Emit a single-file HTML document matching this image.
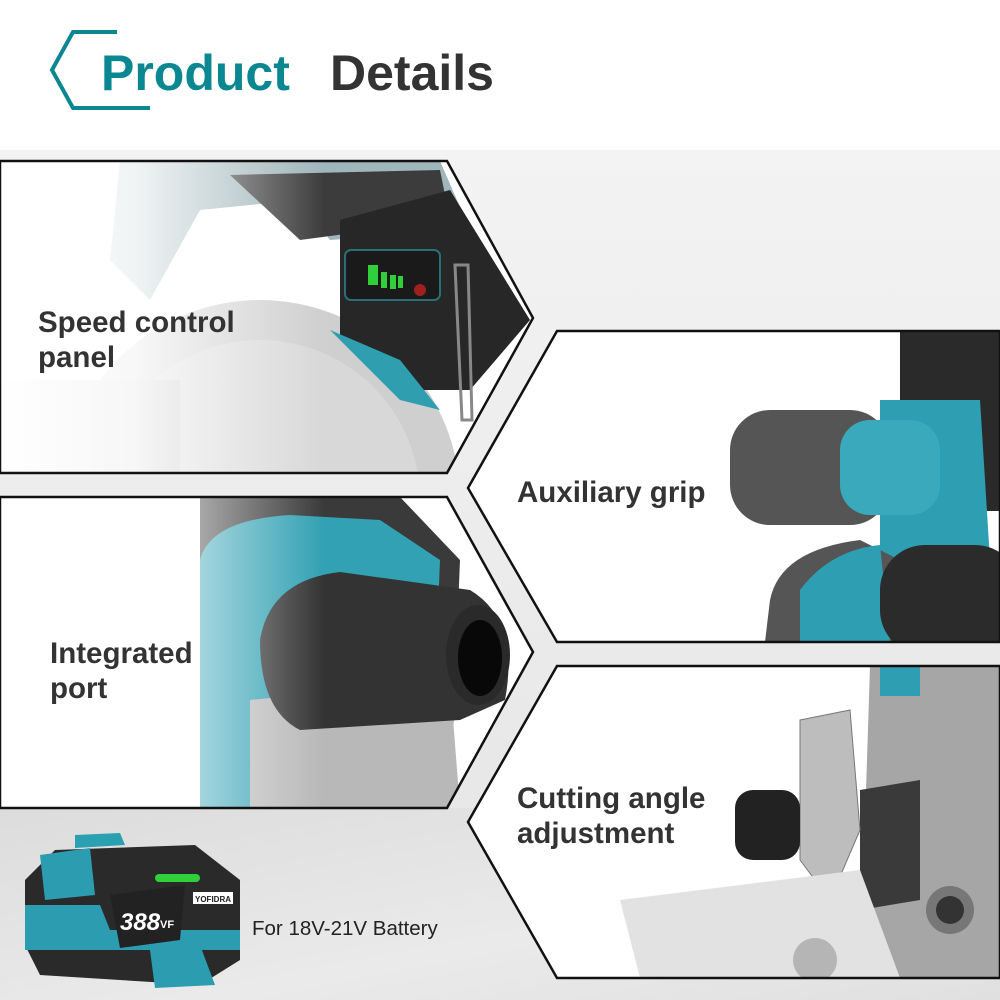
<!DOCTYPE html>
<html><head><meta charset="utf-8"><style>
html,body{margin:0;padding:0;background:#fff;}
svg{display:block;}
text{font-family:"Liberation Sans","DejaVu Sans",sans-serif;}
</style></head><body>
<svg width="1000" height="1000" viewBox="0 0 1000 1000" xmlns="http://www.w3.org/2000/svg">
<defs>
<linearGradient id="bg" x1="0" y1="0" x2="0" y2="1">
<stop offset="0" stop-color="#f3f3f3"/><stop offset="1" stop-color="#e4e4e4"/></linearGradient>
<linearGradient id="bot" x1="0" y1="0" x2="1" y2="1">
<stop offset="0" stop-color="#dcdcdc"/><stop offset="0.6" stop-color="#eaeaea"/><stop offset="1" stop-color="#e0e0e0"/></linearGradient>
<linearGradient id="fadeL" x1="0" y1="0" x2="1" y2="0">
<stop offset="0" stop-color="#fff" stop-opacity="1"/><stop offset="0.25" stop-color="#fff" stop-opacity="0.85"/><stop offset="0.6" stop-color="#fff" stop-opacity="0"/></linearGradient>
<clipPath id="p1"><polygon points="0,161 447,161 533,318 447,473 0,473"/></clipPath>
<clipPath id="p2"><polygon points="557,331 1000,331 1000,642 557,642 468,488"/></clipPath>
<clipPath id="p3"><polygon points="0,497 447,497 533,652 447,808 0,808"/></clipPath>
<clipPath id="p4"><polygon points="557,666 1000,666 1000,978 557,978 468,822"/></clipPath>
</defs>
<rect width="1000" height="1000" fill="#fff"/>
<polygon points="0,150 1000,150 1000,1000 0,1000" fill="url(#bg)"/>
<rect x="0" y="808" width="1000" height="192" fill="url(#bot)"/>

<polyline points="117,32 73,32 52,70 73,108 150,108" fill="none" stroke="#0a8790" stroke-width="4"/>
<text x="101" y="90" font-size="50" font-weight="bold" fill="#0a8790">Product</text>
<text x="330" y="90" font-size="50" font-weight="bold" fill="#333">Details</text>

<g clip-path="url(#p1)">
<rect x="0" y="161" width="540" height="312" fill="#fff"/>
<circle cx="260" cy="500" r="200" fill="#cfcfcf"/>
<circle cx="260" cy="500" r="160" fill="#d8d8d8"/>
<rect x="0" y="380" width="180" height="100" fill="#c8c8c8"/>
<path d="M120,161 L440,161 L470,230 L330,240 L300,200 L200,210 L150,300 L110,260 Z" fill="#9fb6ba"/>
<path d="M230,175 L440,170 L450,220 L300,240 Z" fill="#3c3c3c"/>
<path d="M340,220 L450,190 L530,320 L470,390 L410,390 L340,340 Z" fill="#272727"/>
<rect x="345" y="250" width="95" height="50" rx="6" fill="#1a1a1a" stroke="#2a6f78" stroke-width="2"/>
<rect x="368" y="265" width="10" height="20" fill="#2fd03a"/>
<rect x="381" y="272" width="6" height="16" fill="#2fd03a"/>
<rect x="390" y="275" width="6" height="14" fill="#2fd03a"/>
<rect x="398" y="276" width="5" height="12" fill="#2fd03a"/>
<circle cx="420" cy="290" r="6" fill="#a02020"/>
<path d="M330,330 L400,360 L440,410 L400,400 Z" fill="#2f9fb0"/>
<path d="M455,265 L468,265 L472,420 L462,420 Z" fill="none" stroke="#888" stroke-width="3"/>
<rect x="0" y="161" width="540" height="312" fill="url(#fadeL)"/>
</g>
<polygon points="0,161 447,161 533,318 447,473 0,473" fill="none" stroke="#111" stroke-width="2.5"/>
<text x="38" y="332" font-size="29.5" font-weight="bold" fill="#333">Speed control</text>
<text x="38" y="367" font-size="29.5" font-weight="bold" fill="#333">panel</text>

<g clip-path="url(#p2)">
<rect x="460" y="331" width="540" height="311" fill="#fff"/>
<rect x="900" y="331" width="100" height="180" fill="#2a2a2a"/>
<path d="M880,400 L980,400 L990,560 L880,560 Z" fill="#2e9fb2"/>
<rect x="730" y="410" width="160" height="115" rx="40" fill="#555"/>
<rect x="840" y="420" width="100" height="95" rx="30" fill="#39a9bb"/>
<path d="M770,600 Q780,550 860,540 L900,560 L900,642 L765,642 Z" fill="#555"/>
<path d="M800,590 Q830,550 880,545 L890,642 L800,642 Z" fill="#2e9fb2"/>
<rect x="880" y="545" width="140" height="110" rx="45" fill="#2b2b2b"/>
</g>
<polygon points="557,331 1000,331 1000,642 557,642 468,488" fill="none" stroke="#111" stroke-width="2.5"/>
<text x="517" y="502" font-size="29.5" font-weight="bold" fill="#333">Auxiliary grip</text>

<g clip-path="url(#p3)">
<rect x="0" y="497" width="540" height="311" fill="#fff"/>
<path d="M200,497 L400,497 L460,560 L450,808 L200,808 Z" fill="#3a3a3a"/>
<path d="M200,560 Q210,520 290,515 L380,520 L440,560 L430,808 L200,808 Z" fill="#32a1b3"/>
<path d="M250,700 L450,680 L460,808 L250,808 Z" fill="#b8b8b8"/>
<path d="M260,640 Q270,580 340,572 L470,590 Q520,620 505,700 L460,720 L300,730 Q260,710 260,640 Z" fill="#333"/>
<ellipse cx="478" cy="655" rx="32" ry="50" fill="#2a2a2a"/>
<ellipse cx="480" cy="658" rx="22" ry="38" fill="#080808"/>
<rect x="0" y="497" width="540" height="311" fill="url(#fadeL)"/>
</g>
<polygon points="0,497 447,497 533,652 447,808 0,808" fill="none" stroke="#111" stroke-width="2.5"/>
<text x="50" y="663" font-size="29.5" font-weight="bold" fill="#333">Integrated</text>
<text x="50" y="698" font-size="29.5" font-weight="bold" fill="#333">port</text>

<g clip-path="url(#p4)">
<rect x="460" y="666" width="540" height="312" fill="#fff"/>
<path d="M870,666 L1000,666 L1000,978 L860,978 Z" fill="#a6a6a6"/>
<rect x="880" y="666" width="40" height="30" fill="#2e9fb2"/>
<path d="M860,790 L920,780 L920,900 L860,910 Z" fill="#3a3a3a"/>
<path d="M800,720 L850,710 L860,830 L830,900 L800,860 Z" fill="#bdbdbd" stroke="#777"/>
<rect x="735" y="790" width="65" height="70" rx="18" fill="#222"/>
<path d="M620,900 L860,870 L900,978 L640,978 Z" fill="#e2e2e2"/>
<circle cx="950" cy="910" r="24" fill="#777"/>
<circle cx="950" cy="910" r="14" fill="#333"/>
<circle cx="815" cy="960" r="22" fill="#b5b5b5"/>
</g>
<polygon points="557,666 1000,666 1000,978 557,978 468,822" fill="none" stroke="#111" stroke-width="2.5"/>
<text x="517" y="808" font-size="29.5" font-weight="bold" fill="#333">Cutting angle</text>
<text x="517" y="843" font-size="29.5" font-weight="bold" fill="#333">adjustment</text>

<g>
<path d="M75,835 L120,833 L125,845 L75,848 Z" fill="#2aa0b0"/>
<path d="M55,850 L195,845 L240,880 L240,960 L200,985 L40,975 L25,945 L25,880 Z" fill="#2a2a2a"/>
<path d="M25,905 L100,905 L110,930 L240,930 L240,950 L25,950 Z" fill="#2c9db0"/>
<path d="M40,855 L90,848 L95,895 L45,900 Z" fill="#2c9db0"/>
<path d="M110,895 L185,885 L180,940 L120,948 Z" fill="#222"/>
<text x="120" y="930" font-size="24" font-weight="bold" font-style="italic" fill="#fff">388</text>
<text x="160" y="928" font-size="11" font-weight="bold" fill="#fff">VF</text>
<rect x="193" y="892" width="40" height="12" fill="#fff"/>
<text x="195" y="902" font-size="8" font-weight="bold" fill="#222">YOFIDRA</text>
<rect x="155" y="874" width="45" height="8" rx="4" fill="#2fd03a"/>
<path d="M150,950 L200,945 L215,985 L155,988 Z" fill="#2c9db0"/>
</g>
<text x="252" y="935" font-size="20.5" fill="#222">For 18V-21V Battery</text>
</svg>
</body></html>
